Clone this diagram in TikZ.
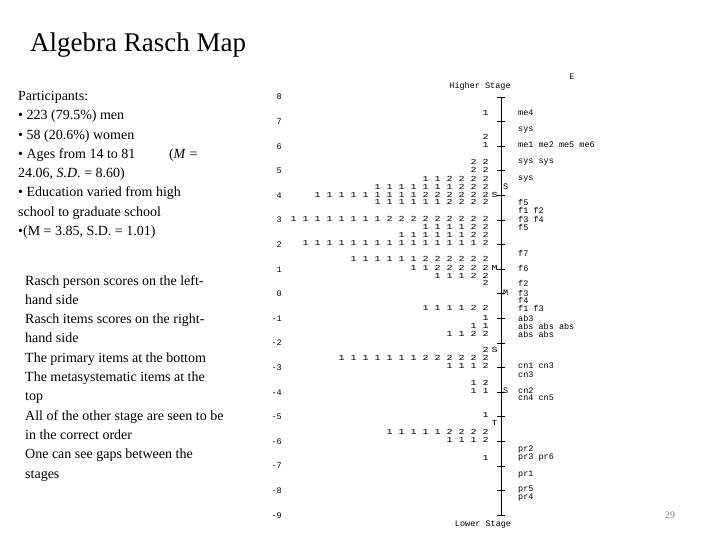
\documentclass[tikz,border=0pt]{standalone}
\usepackage{fontspec}
\setmainfont{Liberation Serif}
\newfontfamily\mono{Liberation Mono}
\begin{document}
\begin{tikzpicture}[x=1pt,y=-1pt,
  row/.style={anchor=east,inner sep=0pt,xscale=1.3,transform shape,font=\mono\fontsize{7.7}{8}\selectfont},
  lab/.style={anchor=west,inner sep=0pt,font=\mono\fontsize{8.5}{9}\selectfont},
  tick/.style={anchor=east,inner sep=0pt,font=\mono\fontsize{8.5}{9}\selectfont},
  body/.style={anchor=north west,inner sep=0pt,align=left,font=\fontsize{14}{19.3}\selectfont}]
\useasboundingbox (0,0) rectangle (720,540);
\fill[white] (0,0) rectangle (720,540);
\node[anchor=west,inner sep=0pt,font=\fontsize{27}{30}\selectfont] (title) at (30,45) {Algebra Rasch Map};
\node[body] (part) at (18,91) {Participants:\\
• 223 (79.5\%) men\\
• 58 (20.6\%) women\\
• Ages from 14 to 81\hspace{2.4em}(\textit{M} =\\
24.06, \textit{S.D.} = 8.60)\\
• Education varied from high\\
school to graduate school\\
•(M = 3.85, S.D. = 1.01)};
\node[body] (notes) at (25,275) {Rasch person scores on the left-\\
hand side\\
Rasch items scores on the right-\\
hand side\\
The primary items at the bottom\\
The metasystematic items at the\\
top\\
All of the other stage are seen to be\\
in the correct order\\
One can see gaps between the\\
stages};
\node[inner sep=0pt,font=\fontsize{10}{10}\selectfont,text=gray] (pg) at (670,515) {29};
% axis
\draw[line width=0.8pt] (501,97) -- (501,515);
\foreach \v [count=\i from 0] in {8,7,6,5,4,3,2,1,0,-1,-2,-3,-4,-5,-6,-7,-8,-9}{
  \draw[line width=0.8pt] (497,97+24.6*\i) -- (505,97+24.6*\i);
  \node[tick] (t\i) at (282,97+24.6*\i) {\v};
}
\node[lab,anchor=center] (hs) at (480,86) {Higher Stage};
\node[lab,anchor=center] (ls) at (483,525) {Lower Stage};
\node[lab,anchor=center] (e) at (572,77) {E};
% person rows
\node[row] (p1) at (489,113) {1};
\node[row] (p2) at (489,137) {2};
\node[row] (p3) at (489,145) {1};
\node[row] (p4) at (489,162) {2 2};
\node[row] (p5) at (489,170) {2 2};
\node[row] (p6) at (489,179) {1 1 2 2 2 2};
\node[row] (p7) at (489,187) {1 1 1 1 1 1 1 2 2 2};
\node[row] (p8) at (489,195) {1 1 1 1 1 1 1 1 1 2 2 2 2 2 2};
\node[row] (p9) at (489,202) {1 1 1 1 1 1 2 2 2 2};
\node[row] (p10) at (489,219) {1 1 1 1 1 1 1 1 2 2 2 2 2 2 2 2 2};
\node[row] (p11) at (489,227) {1 1 1 1 2 2};
\node[row] (p12) at (489,235) {1 1 1 1 1 1 2 2};
\node[row] (p13) at (489,243) {1 1 1 1 1 1 1 1 1 1 1 1 1 1 1 2};
\node[row] (p14) at (489,259) {1 1 1 1 1 1 2 2 2 2 2 2};
\node[row] (p15) at (489,268) {1 1 2 2 2 2 2};
\node[row] (p16) at (489,276) {1 1 1 2 2};
\node[row] (p17) at (489,283) {2};
\node[row] (p18) at (489,308) {1 1 1 1 2 2};
\node[row] (p19) at (489,318) {1};
\node[row] (p20) at (489,326) {1 1};
\node[row] (p21) at (489,334) {1 1 2 2};
\node[row] (p22) at (489,350) {2};
\node[row] (p23) at (489,358) {1 1 1 1 1 1 1 2 2 2 2 2 2};
\node[row] (p24) at (489,366) {1 1 1 2};
\node[row] (p25) at (489,383) {1 2};
\node[row] (p26) at (489,391) {1 1};
\node[row] (p27) at (489,415) {1};
\node[row] (p28) at (489,432) {1 1 1 1 1 2 2 2 2};
\node[row] (p29) at (489,440) {1 1 1 2};
\node[row] (p30) at (489,458) {1};
% person markers
\node[row] (mS1) at (498,195) {S};
\node[row] (mM1) at (498,268) {M};
\node[row] (mS2) at (498,350) {S};
\node[row] (mT1) at (498,423) {T};
% item markers
\node[lab] (iS1) at (503,187) {S};
\node[lab] (iM1) at (503,293) {M};
\node[lab] (iS2) at (503,391) {S};
% item labels
\foreach \y/\t [count=\i] in {113/me4,130/sys,145/me1 me2 me5 me6,162/sys sys,179/sys,202/f5,210/f1 f2,219/f3 f4,227/f5,253/f7,268/f6,283/f2,293/f3,300/f4,308/f1 f3,318/ab3,326/abs abs abs,334/abs abs,366/cn1 cn3,375/cn3,391/cn2,398/cn4 cn5,450/pr2,458/pr3 pr6,475/pr1,490/pr5,498/pr4}{
  \node[lab] (it\i) at (518,\y) {\t};
}
\end{tikzpicture}
\end{document}
